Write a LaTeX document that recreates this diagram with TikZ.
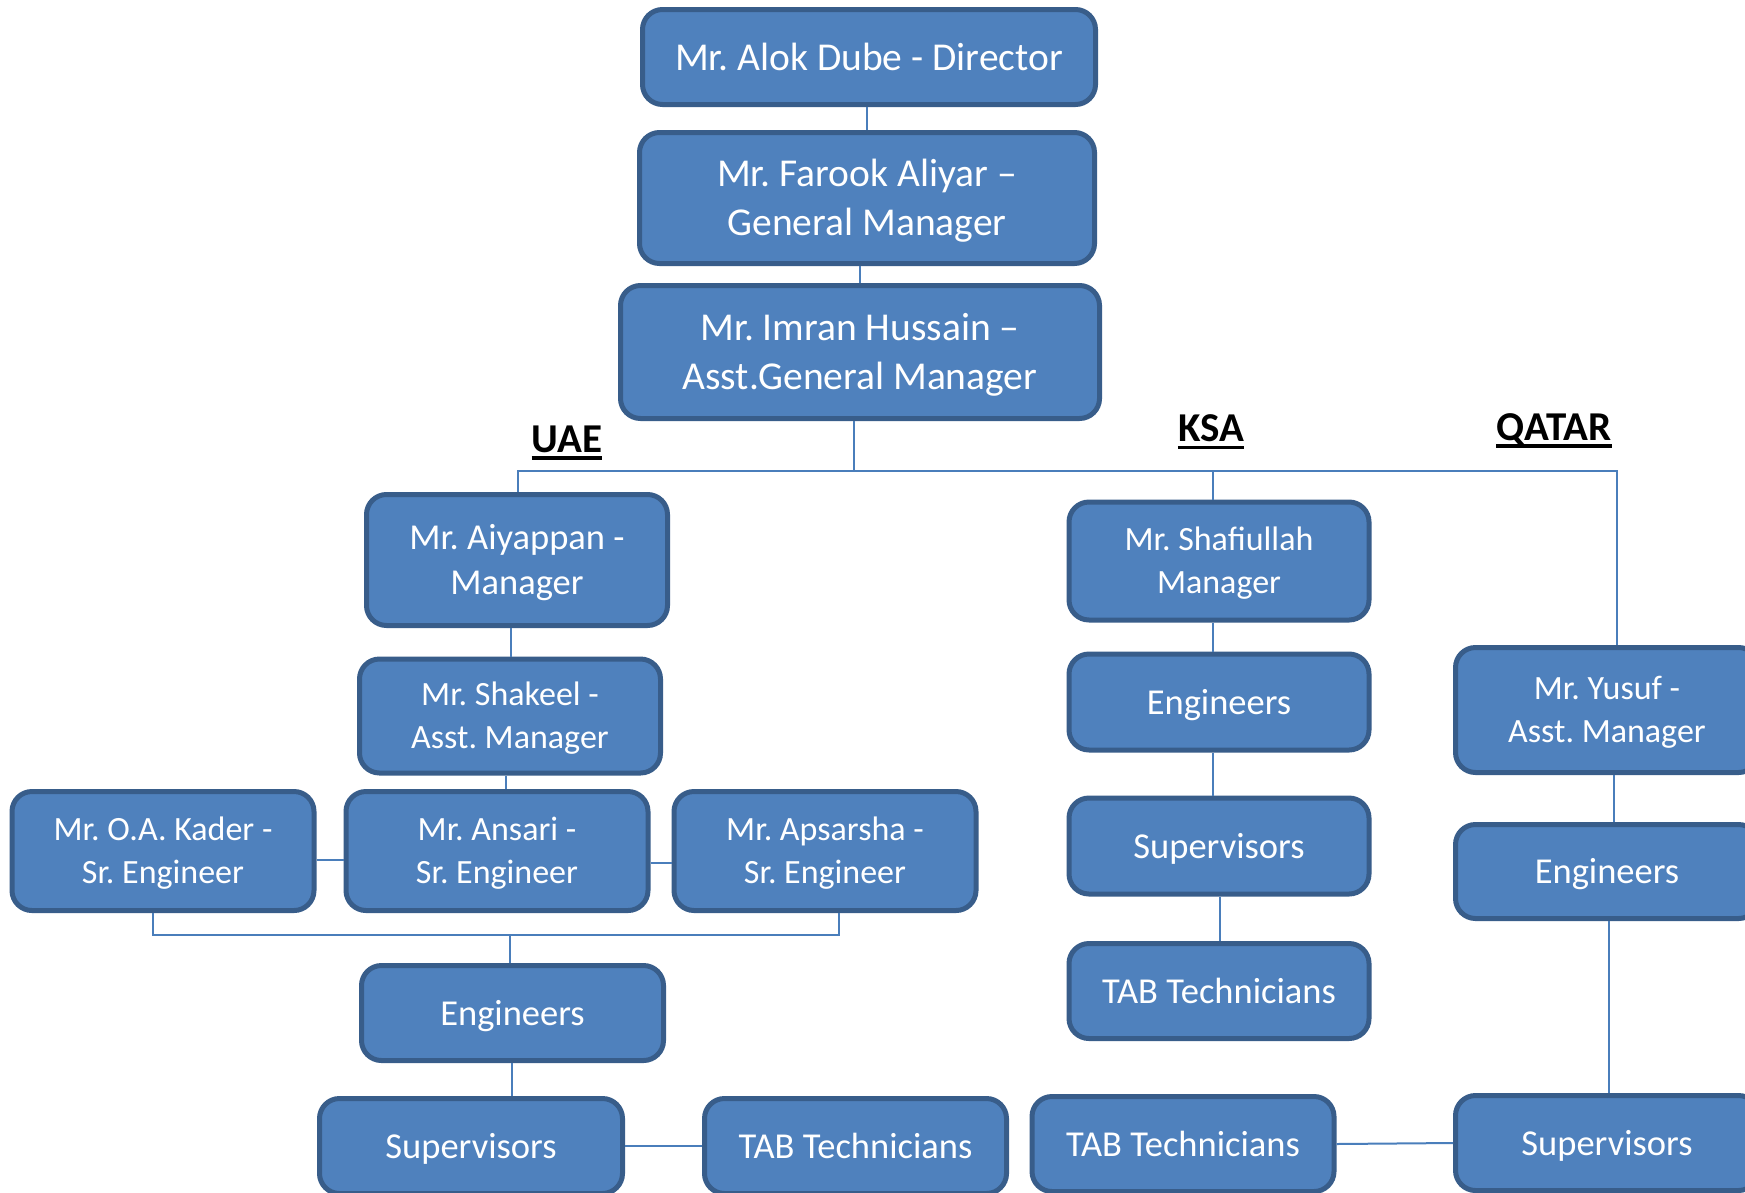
\documentclass[tikz,border=0pt]{standalone}
\usepackage{fontspec}
\setmainfont{Carlito}
\frenchspacing
\definecolor{boxfill}{HTML}{4F81BD}
\definecolor{boxline}{HTML}{385D8A}
\definecolor{connline}{HTML}{4A7EBB}
\tikzset{
  box/.style={draw=boxline, fill=boxfill, line width=5pt, rounded corners=20pt,
    text=white, align=center, inner sep=0pt},
  bigone/.style={font=\fontsize{39.5}{49}\selectfont, text height=30pt, text depth=4pt},
  bigtwo/.style={font=\fontsize{39.5}{49}\selectfont, text height=79pt, text depth=4pt},
  midone/.style={font=\fontsize{36.5}{45}\selectfont, text height=28pt, text depth=4pt},
  midtwo/.style={font=\fontsize{36.5}{45}\selectfont, text height=73pt, text depth=4pt},
  smalltwo/.style={font=\fontsize{34}{42.5}\selectfont, text height=68.9pt, text depth=4pt},
  conn/.style={draw=connline, line width=2pt},
  region/.style={font=\fontsize{41}{41}\selectfont\bfseries, text=black, inner sep=0pt, anchor=base},
  uline/.style={draw=black, line width=3.5pt}
}
\begin{document}
\begin{tikzpicture}[x=1pt,y=-1pt]
\useasboundingbox (0,0) rectangle (1745,1192);
\clip (0,0) rectangle (1745,1192);
\fill[white] (0,0) rectangle (1745,1192);

% top
\node[box,bigone,minimum width=453pt,minimum height=95pt] (dir) at (869,57) {Mr. Alok Dube - Director};
\node[box,bigtwo,minimum width=455pt,minimum height=131pt] (gm) at (867,198) {Mr. Farook Aliyar –\\General Manager};
\node[box,bigtwo,minimum width=479pt,minimum height=133pt] (agm) at (860,352) {Mr. Imran Hussain –\\Asst.General Manager};

% region labels
\node[region] (uae) at (567,452) {UAE};
\node[region] (ksa) at (1211,441.5) {KSA};
\node[region] (qat) at (1554,440) {QATAR};
\draw[uline] ([yshift=-6pt]uae.base west) -- ([yshift=-6pt]uae.base east);
\draw[uline] ([yshift=-6pt]ksa.base west) -- ([yshift=-6pt]ksa.base east);
\draw[uline] ([yshift=-6pt]qat.base west) -- ([yshift=-6pt]qat.base east);

% UAE
\node[box,midtwo,minimum width=301pt,minimum height=131pt] (aiy) at (517,560) {Mr. Aiyappan -\\Manager};
\node[box,smalltwo,minimum width=301pt,minimum height=114pt] (shk) at (510,716) {Mr. Shakeel -\\Asst. Manager};
\node[box,smalltwo,minimum width=302pt,minimum height=119pt] (kad) at (163,851) {Mr. O.A. Kader -\\Sr. Engineer};
\node[box,smalltwo,minimum width=302pt,minimum height=119pt] (ans) at (497,851) {Mr. Ansari -\\Sr. Engineer};
\node[box,smalltwo,minimum width=302pt,minimum height=119pt] (aps) at (825,851) {Mr. Apsarsha -\\Sr. Engineer};
\node[box,midone,minimum width=302pt,minimum height=95pt] (ueng) at (512.5,1013) {Engineers};
\node[box,midone,minimum width=303pt,minimum height=95pt] (usup) at (471,1146) {Supervisors};
\node[box,midone,minimum width=302pt,minimum height=95pt] (utab) at (855.5,1146) {TAB Technicians};

% KSA
\node[box,smalltwo,minimum width=300pt,minimum height=118pt] (shaf) at (1219,561) {Mr. Shafiullah\\Manager};
\node[box,midone,minimum width=300pt,minimum height=96pt] (keng) at (1219,702) {Engineers};
\node[box,midone,minimum width=300pt,minimum height=96pt] (ksup) at (1219,846) {Supervisors};
\node[box,midone,minimum width=300pt,minimum height=95pt] (ktab) at (1219,991) {TAB Technicians};
\node[box,midone,minimum width=302pt,minimum height=95pt] (ktabb) at (1183,1144) {TAB Technicians};

% QATAR
\node[box,smalltwo,minimum width=303pt,minimum height=125pt] (yus) at (1607,710) {Mr. Yusuf -\\Asst. Manager};
\node[box,midone,minimum width=303pt,minimum height=94pt] (qeng) at (1607,871.5) {Engineers};
\node[box,midone,minimum width=303pt,minimum height=95pt] (qsup) at (1607,1143) {Supervisors};

% coordinates for buses
\coordinate (bus) at (854,471);
\coordinate (qtop) at (1617,471);
\coordinate (ubus) at (510,935);

% connectors
\draw[conn] ([xshift=-2pt]dir.south) -- ([xshift=-2pt]dir.south |- gm.north);
\draw[conn] (agm.north) -- (agm.north |- gm.south);
\draw[conn] (bus |- agm.south) -- (bus);
\draw[conn] ([xshift=1pt]aiy.north) |- (qtop) -- ([xshift=10pt]yus.north);
\draw[conn] ([xshift=-6pt]shaf.north) -- ([xshift=-6pt]shaf.north |- bus);
\draw[conn] ([xshift=-6pt]aiy.south) -- ([xshift=-6pt]aiy.south |- shk.north);
\draw[conn] ([xshift=-4pt]shk.south) -- ([xshift=-4pt]shk.south |- ans.north);
\draw[conn] ([yshift=-9pt]kad.east) -- ([yshift=-9pt]ans.west);
\draw[conn] ([yshift=-12pt]ans.east) -- ([yshift=-12pt]aps.west);
\draw[conn] ([xshift=-10pt]kad.south) |- (ubus) -| ([xshift=14pt]aps.south);
\draw[conn] (ubus) -- (ubus |- ueng.north);
\draw[conn] ([xshift=-1pt]ueng.south) -- ([xshift=-1pt]ueng.south |- usup.north);
\draw[conn] (usup.east) -- (utab.west);
\draw[conn] ([xshift=-6pt]shaf.south) -- ([xshift=-6pt]shaf.south |- keng.north);
\draw[conn] ([xshift=-6pt]keng.south) -- ([xshift=-6pt]keng.south |- ksup.north);
\draw[conn] ([xshift=1pt]ksup.south) -- ([xshift=1pt]ksup.south |- ktab.north);
\draw[conn] (ktabb.east) -- (qsup.west);
\draw[conn] ([xshift=7pt]yus.south) -- ([xshift=7pt]yus.south |- qeng.north);
\draw[conn] ([xshift=2pt]qeng.south) -- ([xshift=2pt]qeng.south |- qsup.north);
\end{tikzpicture}
\end{document}
